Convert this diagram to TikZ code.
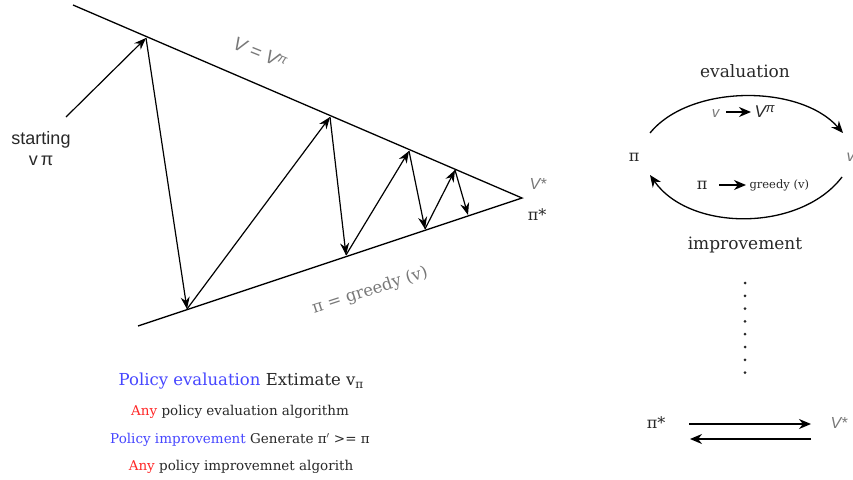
\documentclass[tikz,border=0pt]{standalone}
\usepackage{fontspec}
\setmainfont{DejaVu Serif}
\setsansfont{Liberation Sans}
\usetikzlibrary{arrows.meta}
\definecolor{pblue}{RGB}{70,70,255}
\definecolor{pred}{RGB}{255,40,40}
\definecolor{lgray}{RGB}{120,120,120}
\definecolor{dtext}{RGB}{40,40,40}
\tikzset{
  line/.style={line width=1.3pt},
  arr/.style={line width=1.2pt,-{Stealth[length=12pt,width=9pt]}},
  bigarr/.style={line width=1.5pt,-{Stealth[length=12pt,width=10pt]}},
  lbl/.style={inner sep=0pt,font=\fontsize{13.5}{16}\selectfont,text=dtext},
}
\newcommand{\supi}[1]{\raisebox{#1}{\fontsize{13}{13}\selectfont π}}
\begin{document}
\begin{tikzpicture}[x=1pt,y=-1pt]
\useasboundingbox (0,0) rectangle (853,479);
% triangle lines
\coordinate (ustart) at (73,5);
\coordinate (lstart) at (138,326);
\coordinate (apex) at (522,198);
\draw[line] (ustart) -- (apex) -- (lstart);
% zigzag points
\coordinate (t1) at (146,38);
\coordinate (b1) at (187,309);
\coordinate (t2) at (330,117);
\coordinate (b2) at (346,255);
\coordinate (t3) at (409,151);
\coordinate (b3) at (425,229);
\coordinate (t4) at (455,170);
\coordinate (b4) at (468,215);
\coordinate (s0) at (66,117);
\draw[arr] (s0) -- (t1);
\draw[arr] (t1) -- (b1);
\draw[arr] (b1) -- (t2);
\draw[arr] (t2) -- (b2);
\draw[arr] (b2) -- (t3);
\draw[arr] (t3) -- (b3);
\draw[arr] (b3) -- (t4);
\draw[arr] (t4) -- (b4);
% labels
\node[align=center,font=\sffamily\fontsize{18}{21}\selectfont,text=dtext] (start) at (41,149) {starting\\v\,π};
\node[rotate=-22,font=\sffamily\itshape\fontsize{19}{21}\selectfont,text=lgray] (vvpi) at (260,53) {V = V\supi{5pt}};
\node[rotate=18,font=\fontsize{16.5}{18}\selectfont,text=lgray] (greedy) at (370,291) {π = greedy (v)};
\node[font=\sffamily\itshape\fontsize{16}{18}\selectfont,text=lgray] (vstar) at (538,184) {V*};
\node[font=\fontsize{16}{18}\selectfont,text=dtext] (pistar) at (537,215) {π*};
% bottom-left text
\node[font=\fontsize{16.5}{19}\selectfont,text=dtext] (t1l) at (241,381) {\textcolor{pblue}{Policy evaluation} Extimate v\raisebox{-3pt}{\fontsize{12}{12}\selectfont π}};
\node[lbl] (t2l) at (240,412) {\textcolor{pred}{Any} policy evaluation algorithm};
\node[lbl] (t3l) at (240,440) {\textcolor{pblue}{Policy improvement} Generate π$'$ >= π};
\node[lbl] (t4l) at (241,467) {\textcolor{pred}{Any} policy improvemnet algorith};
% right cycle
\node[font=\fontsize{17}{19}\selectfont,text=dtext] (evl) at (745,71) {evaluation};
\node[font=\fontsize{17}{19}\selectfont,text=dtext] (impl) at (745,245) {improvement};
\node[font=\fontsize{16}{18}\selectfont,text=dtext] (pil) at (634,157) {π};
\node[font=\sffamily\itshape\fontsize{16}{18}\selectfont,text=lgray,anchor=west] (vr) at (843,157) {v};
\coordinate (ua) at (650,133);
\coordinate (ub) at (843,133);
\draw[line,-{Stealth[length=12pt,width=10pt]}] (ua) .. controls (690,84) and (800,84) .. (ub);
\coordinate (la) at (842,177);
\coordinate (lb) at (650,175);
\draw[line,-{Stealth[length=12pt,width=10pt]}] (la) .. controls (800,232) and (690,232) .. (lb);
\node[font=\sffamily\itshape\fontsize{15}{17}\selectfont,text=lgray,anchor=east] (ev1) at (723,114) {v};
\node[font=\sffamily\itshape\fontsize{17}{19}\selectfont,text=dtext,anchor=west] (ev2) at (751,112) {V\supi{5pt}};
\draw[bigarr] ([xshift=3pt,yshift=2pt]ev1.east) -- ([yshift=2pt]ev1.east -| ev2.west);
\node[font=\fontsize{16}{18}\selectfont,text=dtext,anchor=east] (im1) at (711,185) {π};
\node[font=\fontsize{11.5}{13}\selectfont,text=dtext,anchor=west] (im2) at (746,185) {greedy (v)};
\draw[bigarr] ([xshift=8pt]im1.east) -- (im2.west);
% dots
\foreach \i in {0,...,7} {\fill[dtext] (745,283+12.8*\i) circle (1.5pt);}
% pi* <-> V*
\node[font=\fontsize{16}{18}\selectfont,text=dtext] (ps) at (656,423) {π*};
\node[font=\sffamily\itshape\fontsize{16}{18}\selectfont,text=lgray] (vs) at (839,423) {V*};
\coordinate (fa) at (689,424);
\coordinate (fb) at (811,424);
\coordinate (ga) at (811,439);
\coordinate (gb) at (690,439);
\draw[bigarr] (fa) -- (fb);
\draw[bigarr] (ga) -- (gb);
\end{tikzpicture}
\end{document}
